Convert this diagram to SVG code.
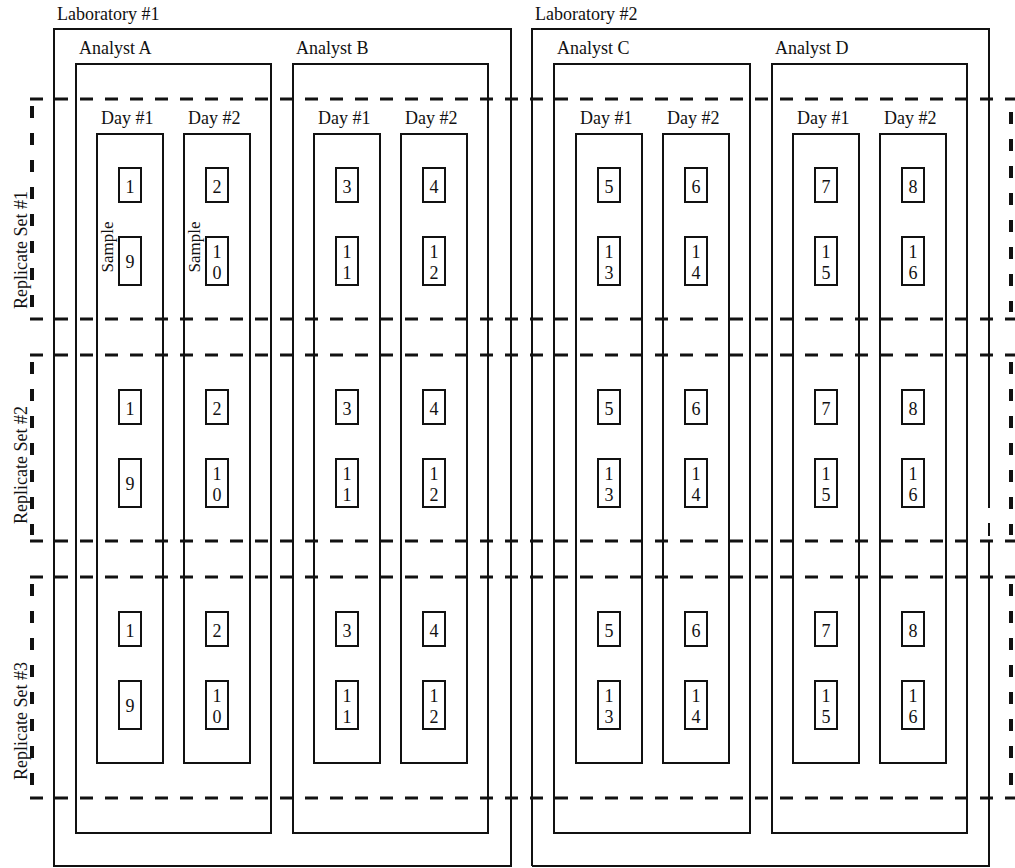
<svg xmlns="http://www.w3.org/2000/svg" width="1015" height="868" viewBox="0 0 1015 868">
<style>
.box{fill:none;stroke:#111;stroke-width:2}
.dash{fill:none;stroke:#111;stroke-width:3.2;stroke-dasharray:13 12}
.dashv{fill:none;stroke:#111;stroke-width:4;stroke-dasharray:12 15}
text{font-family:'Liberation Serif','DejaVu Serif',serif;font-size:18px;fill:#111}
.num{text-anchor:middle}
.samp{font-size:17px;text-anchor:middle}
.rep{text-anchor:middle}
</style>
<rect width="1015" height="868" fill="#fff"/>
<defs>
<g id="s1"><rect class="box" x="0" y="0" width="22" height="34"/></g>
<g id="s2"><rect class="box" x="0" y="0" width="22" height="48"/></g>
</defs>
<g font-family="Liberation Serif, serif">
<g id="lab1"><rect class="box" x="54" y="29" width="457" height="837"/><text x="57" y="20">Laboratory #1</text></g>
<g id="lab2"><path class="box" d="M532 866V29H989V508M989 523V536M989 541V866H532"/><text x="535" y="20">Laboratory #2</text></g>

<g id="analystA"><rect class="box" x="76" y="64" width="195" height="769"/><text x="79" y="54">Analyst A</text></g>
<g id="analystB"><rect class="box" x="293" y="64" width="195" height="769"/><text x="296" y="54">Analyst B</text></g>
<g id="analystC"><rect class="box" x="554" y="64" width="196" height="769"/><text x="557" y="54">Analyst C</text></g>
<g id="analystD"><rect class="box" x="772" y="64" width="195" height="769"/><text x="775" y="54">Analyst D</text></g>

<g id="dayA1"><rect class="box" x="97" y="134" width="66" height="629"/><text x="101" y="124">Day #1</text></g>
<g id="dayA2"><rect class="box" x="184" y="134" width="66" height="629"/><text x="188" y="124">Day #2</text></g>
<g id="dayB1"><rect class="box" x="314" y="134" width="66" height="629"/><text x="318" y="124">Day #1</text></g>
<g id="dayB2"><rect class="box" x="401" y="134" width="66" height="629"/><text x="405" y="124">Day #2</text></g>
<g id="dayC1"><rect class="box" x="576" y="134" width="66" height="629"/><text x="580" y="124">Day #1</text></g>
<g id="dayC2"><rect class="box" x="663" y="134" width="66" height="629"/><text x="667" y="124">Day #2</text></g>
<g id="dayD1"><rect class="box" x="793" y="134" width="66" height="629"/><text x="797" y="124">Day #1</text></g>
<g id="dayD2"><rect class="box" x="880" y="134" width="66" height="629"/><text x="884" y="124">Day #2</text></g>

<g id="sampleLabels">
<text class="samp" transform="translate(113 247) rotate(-90)">Sample</text>
<text class="samp" transform="translate(200 247) rotate(-90)">Sample</text>
</g>

<g id="set1-samples">
<g id="r1-1"><use href="#s1" x="119" y="168"/><text class="num" x="130" y="193">1</text></g>
<g id="r1-9"><use href="#s2" x="119" y="237"/><text class="num" x="130" y="268">9</text></g>
<g id="r1-2"><use href="#s1" x="206" y="168"/><text class="num" x="217" y="193">2</text></g>
<g id="r1-10"><use href="#s2" x="206" y="237"/><text class="num" x="217" y="258">1</text><text class="num" x="217" y="279">0</text></g>
<g id="r1-3"><use href="#s1" x="336" y="168"/><text class="num" x="347" y="193">3</text></g>
<g id="r1-11"><use href="#s2" x="336" y="237"/><text class="num" x="347" y="258">1</text><text class="num" x="347" y="279">1</text></g>
<g id="r1-4"><use href="#s1" x="423" y="168"/><text class="num" x="434" y="193">4</text></g>
<g id="r1-12"><use href="#s2" x="423" y="237"/><text class="num" x="434" y="258">1</text><text class="num" x="434" y="279">2</text></g>
<g id="r1-5"><use href="#s1" x="598" y="168"/><text class="num" x="609" y="193">5</text></g>
<g id="r1-13"><use href="#s2" x="598" y="237"/><text class="num" x="609" y="258">1</text><text class="num" x="609" y="279">3</text></g>
<g id="r1-6"><use href="#s1" x="685" y="168"/><text class="num" x="696" y="193">6</text></g>
<g id="r1-14"><use href="#s2" x="685" y="237"/><text class="num" x="696" y="258">1</text><text class="num" x="696" y="279">4</text></g>
<g id="r1-7"><use href="#s1" x="815" y="168"/><text class="num" x="826" y="193">7</text></g>
<g id="r1-15"><use href="#s2" x="815" y="237"/><text class="num" x="826" y="258">1</text><text class="num" x="826" y="279">5</text></g>
<g id="r1-8"><use href="#s1" x="902" y="168"/><text class="num" x="913" y="193">8</text></g>
<g id="r1-16"><use href="#s2" x="902" y="237"/><text class="num" x="913" y="258">1</text><text class="num" x="913" y="279">6</text></g>
</g>

<g id="set2-samples" transform="translate(0 222)">
<g id="r2-1"><use href="#s1" x="119" y="168"/><text class="num" x="130" y="193">1</text></g>
<g id="r2-9"><use href="#s2" x="119" y="237"/><text class="num" x="130" y="268">9</text></g>
<g id="r2-2"><use href="#s1" x="206" y="168"/><text class="num" x="217" y="193">2</text></g>
<g id="r2-10"><use href="#s2" x="206" y="237"/><text class="num" x="217" y="258">1</text><text class="num" x="217" y="279">0</text></g>
<g id="r2-3"><use href="#s1" x="336" y="168"/><text class="num" x="347" y="193">3</text></g>
<g id="r2-11"><use href="#s2" x="336" y="237"/><text class="num" x="347" y="258">1</text><text class="num" x="347" y="279">1</text></g>
<g id="r2-4"><use href="#s1" x="423" y="168"/><text class="num" x="434" y="193">4</text></g>
<g id="r2-12"><use href="#s2" x="423" y="237"/><text class="num" x="434" y="258">1</text><text class="num" x="434" y="279">2</text></g>
<g id="r2-5"><use href="#s1" x="598" y="168"/><text class="num" x="609" y="193">5</text></g>
<g id="r2-13"><use href="#s2" x="598" y="237"/><text class="num" x="609" y="258">1</text><text class="num" x="609" y="279">3</text></g>
<g id="r2-6"><use href="#s1" x="685" y="168"/><text class="num" x="696" y="193">6</text></g>
<g id="r2-14"><use href="#s2" x="685" y="237"/><text class="num" x="696" y="258">1</text><text class="num" x="696" y="279">4</text></g>
<g id="r2-7"><use href="#s1" x="815" y="168"/><text class="num" x="826" y="193">7</text></g>
<g id="r2-15"><use href="#s2" x="815" y="237"/><text class="num" x="826" y="258">1</text><text class="num" x="826" y="279">5</text></g>
<g id="r2-8"><use href="#s1" x="902" y="168"/><text class="num" x="913" y="193">8</text></g>
<g id="r2-16"><use href="#s2" x="902" y="237"/><text class="num" x="913" y="258">1</text><text class="num" x="913" y="279">6</text></g>
</g>

<g id="set3-samples" transform="translate(0 444)">
<g id="r3-1"><use href="#s1" x="119" y="168"/><text class="num" x="130" y="193">1</text></g>
<g id="r3-9"><use href="#s2" x="119" y="237"/><text class="num" x="130" y="268">9</text></g>
<g id="r3-2"><use href="#s1" x="206" y="168"/><text class="num" x="217" y="193">2</text></g>
<g id="r3-10"><use href="#s2" x="206" y="237"/><text class="num" x="217" y="258">1</text><text class="num" x="217" y="279">0</text></g>
<g id="r3-3"><use href="#s1" x="336" y="168"/><text class="num" x="347" y="193">3</text></g>
<g id="r3-11"><use href="#s2" x="336" y="237"/><text class="num" x="347" y="258">1</text><text class="num" x="347" y="279">1</text></g>
<g id="r3-4"><use href="#s1" x="423" y="168"/><text class="num" x="434" y="193">4</text></g>
<g id="r3-12"><use href="#s2" x="423" y="237"/><text class="num" x="434" y="258">1</text><text class="num" x="434" y="279">2</text></g>
<g id="r3-5"><use href="#s1" x="598" y="168"/><text class="num" x="609" y="193">5</text></g>
<g id="r3-13"><use href="#s2" x="598" y="237"/><text class="num" x="609" y="258">1</text><text class="num" x="609" y="279">3</text></g>
<g id="r3-6"><use href="#s1" x="685" y="168"/><text class="num" x="696" y="193">6</text></g>
<g id="r3-14"><use href="#s2" x="685" y="237"/><text class="num" x="696" y="258">1</text><text class="num" x="696" y="279">4</text></g>
<g id="r3-7"><use href="#s1" x="815" y="168"/><text class="num" x="826" y="193">7</text></g>
<g id="r3-15"><use href="#s2" x="815" y="237"/><text class="num" x="826" y="258">1</text><text class="num" x="826" y="279">5</text></g>
<g id="r3-8"><use href="#s1" x="902" y="168"/><text class="num" x="913" y="193">8</text></g>
<g id="r3-16"><use href="#s2" x="902" y="237"/><text class="num" x="913" y="258">1</text><text class="num" x="913" y="279">6</text></g>
</g>

<g id="replicateSets">
<g id="rep1">
<line class="dash" x1="30" y1="99" x2="1015" y2="99"/>
<line class="dash" x1="30" y1="319" x2="1015" y2="319"/>
<line class="dashv" x1="32" y1="106" x2="32" y2="312"/>
<line class="dashv" x1="1011" y1="112" x2="1011" y2="312"/>
<text class="rep" transform="translate(27 250) rotate(-90)">Replicate Set #1</text>
</g>
<g id="rep2">
<line class="dash" x1="30" y1="355" x2="1015" y2="355"/>
<line class="dash" x1="30" y1="541" x2="1015" y2="541"/>
<line class="dashv" x1="32" y1="362" x2="32" y2="535"/>
<line class="dashv" x1="1011" y1="362" x2="1011" y2="535"/>
<text class="rep" transform="translate(27 465) rotate(-90)">Replicate Set #2</text>
</g>
<g id="rep3">
<line class="dash" x1="30" y1="577" x2="1015" y2="577"/>
<line class="dash" x1="30" y1="798" x2="1015" y2="798"/>
<line class="dashv" x1="32" y1="584" x2="32" y2="791"/>
<line class="dashv" x1="1011" y1="584" x2="1011" y2="791"/>
<text class="rep" transform="translate(27 721) rotate(-90)">Replicate Set #3</text>
</g>
</g>
</g>
</svg>
